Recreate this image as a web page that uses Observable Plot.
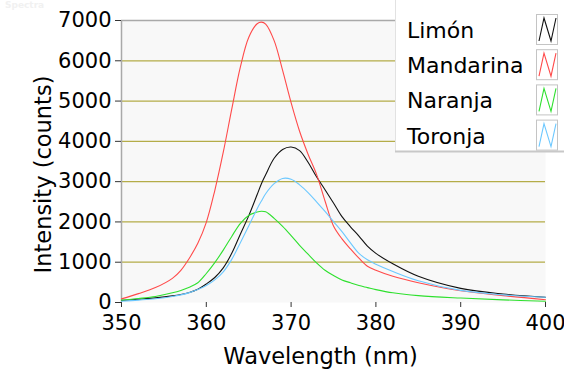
<!DOCTYPE html>
<html>
<head>
<meta charset="utf-8">
<script src="https://cdn.jsdelivr.net/npm/d3@7"></script>
<script src="https://cdn.jsdelivr.net/npm/@observablehq/plot@0.6"></script>
<style>
  html, body { margin: 0; padding: 0; background: #fff; }
  #chart { position: relative; width: 564px; height: 369px; overflow: hidden; font-family: "DejaVu Sans", sans-serif; }
  #title { position: absolute; left: 5px; top: 0px; font-size: 9px; font-weight: bold; color: #f1f1f1; }
  #legend { position: absolute; left: 395px; top: 0px; }
</style>
</head>
<body>
<div id="chart">
  <div id="title">Spectra</div>
</div>
<script>
// Emission wavelengths (nm) shared by all four spectra
const wavelengths = [350, 352, 354, 356, 357, 358, 359, 360, 361, 362, 363, 364, 365, 366, 366.5, 367, 368, 369, 370,
                     371, 372, 373, 374, 375, 376, 377, 378, 379, 380, 382, 385, 390, 395, 400];

// Intensity (counts) for each sample
const limon     = [50, 80, 115, 165, 200, 250, 330, 460, 620, 860, 1220, 1690, 2150, 2680, 2950, 3170, 3580, 3800, 3860,
                   3770, 3480, 3120, 2800, 2470, 2130, 1880, 1650, 1400, 1220, 960, 650, 350, 210, 130];
const mandarina = [90, 220, 370, 600, 800, 1100, 1470, 1990, 2780, 3730, 4800, 5830, 6580, 6920, 6960, 6910, 6500, 5760, 4960,
                   4250, 3680, 3180, 2520, 1900, 1580, 1330, 1100, 900, 800, 650, 490, 290, 170, 70];
const naranja   = [60, 100, 150, 240, 300, 380, 490, 720, 990, 1300, 1640, 1960, 2160, 2245, 2265, 2250, 2090, 1890, 1660,
                   1420, 1200, 985, 800, 670, 560, 490, 420, 370, 320, 240, 170, 110, 65, 30];
const toronja   = [30, 60, 95, 150, 190, 245, 320, 420, 560, 760, 1070, 1480, 1900, 2330, 2520, 2700, 2950, 3080, 3060,
                   2920, 2730, 2500, 2260, 2010, 1760, 1480, 1220, 1060, 950, 770, 540, 300, 190, 130];

const seriesNames  = ["Limón", "Mandarina", "Naranja", "Toronja"];
const seriesValues = [limon, mandarina, naranja, toronja];
const seriesColors = ["#111111", "#ff4a4a", "#2ee02e", "#6cc8ff"];

const xTicks = [350, 360, 370, 380, 390, 400];
const yTicks = [0, 1000, 2000, 3000, 4000, 5000, 6000, 7000];
const gridLines = [1000, 2000, 3000, 4000, 5000, 6000];

const xTitle = "Wavelength (nm)";
const yTitle = "Intensity (counts)";

// Long-format table: one row per (series, wavelength)
const rows = seriesNames.flatMap((name, k) =>
  wavelengths.map((w, i) => ({series: name, wavelength: w, intensity: seriesValues[k][i]}))
);

const chart = Plot.plot({
  width: 564,
  height: 369,
  marginLeft: 121,
  marginRight: 19,
  marginTop: 20,
  marginBottom: 67,
  style: {fontFamily: "DejaVu Sans, sans-serif", background: "transparent", color: "#000", overflow: "visible"},
  x: {domain: [350, 400]},
  y: {domain: [0, 7000]},
  marks: [
    Plot.frame({fill: "#f8f8f8", stroke: "none"}),
    Plot.ruleY(gridLines, {stroke: "#b4ac48", strokeWidth: 1.2}),
    Plot.ruleX([350], {stroke: "#a9a9a9", strokeWidth: 1.5}),
    Plot.ruleY([7000], {stroke: "#a9a9a9", strokeWidth: 1.5}),
    Plot.axisY({ticks: yTicks, tickFormat: "d", tickSize: 6, tickPadding: 4, fontSize: 21, label: null, stroke: "#333"}),
    Plot.axisX({ticks: xTicks, tickFormat: "d", tickSize: 5, tickPadding: 8, fontSize: 21, label: null, stroke: "#333"}),
    ...seriesNames.map((name, k) =>
      Plot.line(rows.filter(d => d.series === name), {
        x: "wavelength", y: "intensity", stroke: seriesColors[k], strokeWidth: 1.1, curve: "catmull-rom"
      })
    ),
    Plot.text([xTitle], {frameAnchor: "bottom", textAnchor: "middle", lineAnchor: "middle",
                         dx: -13, dy: 54, fontSize: 22.5, fill: "#000"}),
    Plot.text([yTitle], {frameAnchor: "left", textAnchor: "middle", lineAnchor: "middle", rotate: -90,
                         dx: -78, dy: 13, fontSize: 22.5, fill: "#000"})
  ]
});

const holder = document.getElementById("chart");
holder.appendChild(chart);

// Legend panel in the upper right, built from the series names and colours
const legW = 169, legH = 153, rowStep = 35.2;
const legend = d3.create("svg")
  .attr("id", "legend")
  .attr("width", legW)
  .attr("height", legH)
  .style("font-family", "DejaVu Sans, sans-serif");

legend.append("rect").attr("x", 0).attr("y", 0).attr("width", legW).attr("height", legH - 2).attr("fill", "#fff");
legend.append("line").attr("x1", 0.5).attr("x2", 0.5).attr("y1", 0).attr("y2", legH - 2).attr("stroke", "#e2e2e2");
legend.append("line").attr("x1", 0).attr("x2", legW).attr("y1", legH - 1.5).attr("y2", legH - 1.5).attr("stroke", "#c8c8c8").attr("stroke-width", 2);

const row = legend.selectAll("g.row")
  .data(seriesNames.map((name, k) => ({name, color: seriesColors[k], k})))
  .join("g")
  .attr("class", "row")
  .attr("transform", d => `translate(0, ${d.k * rowStep})`);

row.append("text")
  .attr("x", 12)
  .attr("y", 38)
  .attr("font-size", 22)
  .attr("fill", "#000")
  .text(d => d.name);

row.append("rect")
  .attr("x", 141.5).attr("y", 14.5).attr("width", 21).attr("height", 30)
  .attr("fill", "#fff").attr("stroke", "#c4c4c4");

row.append("polyline")
  .attr("points", "144,41 149,18 156,41 161,18")
  .attr("fill", "none")
  .attr("stroke", d => d.color)
  .attr("stroke-width", 1.1);

holder.appendChild(legend.node());
</script>
</body>
</html>
